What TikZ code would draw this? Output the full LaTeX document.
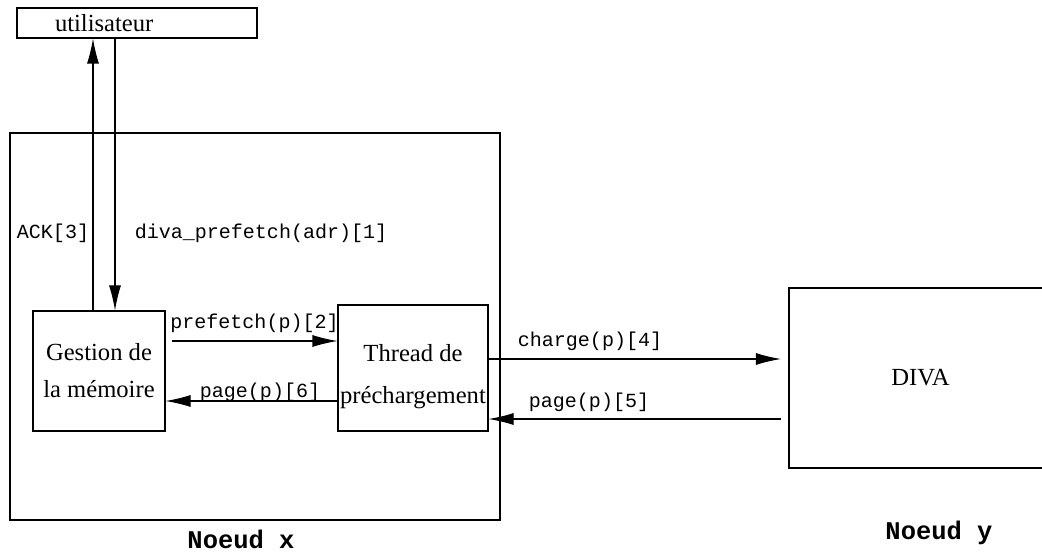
\documentclass[tikz,border=0pt]{standalone}
\usepackage{fontspec}
\setmainfont{Liberation Serif}
\setmonofont{Liberation Mono}
\usetikzlibrary{arrows.meta}
\tikzset{
  boite/.style={draw, line width=0.6pt, align=center, font=\fontsize{14}{21}\selectfont},
  texte/.style={align=center, inner sep=0pt, font=\fontsize{14}{21}\selectfont},
  noeud/.style={draw, line width=1.2pt},
  fleche/.style={line width=0.6pt, -{Latex[length=0.5cm,width=0.24cm]}},
  msg/.style={font=\ttfamily\fontsize{11.4}{13}\selectfont, inner sep=1pt},
  titre/.style={font=\ttfamily\bfseries\fontsize{14.5}{16}\selectfont, inner sep=1pt}
}

\begin{document}
\begin{tikzpicture}
	%%%%% START %%%%%
	\clip (0,0) rectangle (20.84,11.08);
	
	% les deux noeuds
	\node[noeud, minimum width=9.8cm, minimum height=7.74cm] (noeudx) at (5.1,4.55) {};
	\node[noeud, minimum width=5.26cm, minimum height=3.6cm, font=\fontsize{14}{16}\selectfont] (diva) at (18.41,3.52) {DIVA};
	\node[titre] (nomx) at (4.82,0.3) {Noeud x};
	\node[titre] (nomy) at (18.78,0.42) {Noeud y};
	
	% les boites
	\node[boite, minimum height=0.6cm, text width=3.28cm, inner xsep=0.76cm, inner ysep=0pt, align=left] (util) at (2.74,10.62) {utilisateur};
	\node[boite, minimum width=2.64cm, minimum height=2.4cm] (gestion) at (1.98,3.66) {Gestion de\\la mémoire};
	\node[boite, minimum width=3cm, minimum height=2.52cm, inner xsep=0pt] (thread) at (8.26,3.72) {};
	\node[texte] (tthread) at (8.26,3.55) {Thread de\\[3pt]préchargement};
	
	% les fleches
	\coordinate (ack) at ([xshift=-0.12cm]gestion.north);
	\coordinate (req) at ([xshift=0.32cm]gestion.north);
	\draw[fleche] (ack) -- (ack |- util.south);
	\draw[fleche] (req |- util.south) -- (req);
	
	\coordinate (pf) at ([shift={(0.12,0.6)}]gestion.east);
	\draw[fleche] (pf) -- (pf -| thread.west);
	\coordinate (pg) at ([yshift=-0.6cm]gestion.east);
	\draw[fleche] (pg -| thread.west) -- (pg);
	
	\coordinate (ch) at ([yshift=0.18cm]thread.east);
	\draw[fleche, shorten >=0.14cm] (ch) -- (ch -| diva.west);
	\coordinate (rp) at ([yshift=-1.02cm]thread.east);
	\draw[fleche, shorten <=0.14cm] (rp -| diva.west) -- (rp);
	
	% les messages
	\node[msg] (lack) at (1.06,6.42) {ACK[3]};
	\node[msg] (lreq) at (5.22,6.42) {diva\_prefetch(adr)[1]};
	\node[msg] (lpf) at (5.09,4.62) {prefetch(p)[2]};
	\node[msg] (lpg) at (5.2,3.24) {page(p)[6]};
	\node[msg] (lch) at (11.8,4.26) {charge(p)[4]};
	\node[msg] (lrp) at (11.78,3.04) {page(p)[5]};
	
	%%%%% END %%%%%
\end{tikzpicture}
\end{document}
